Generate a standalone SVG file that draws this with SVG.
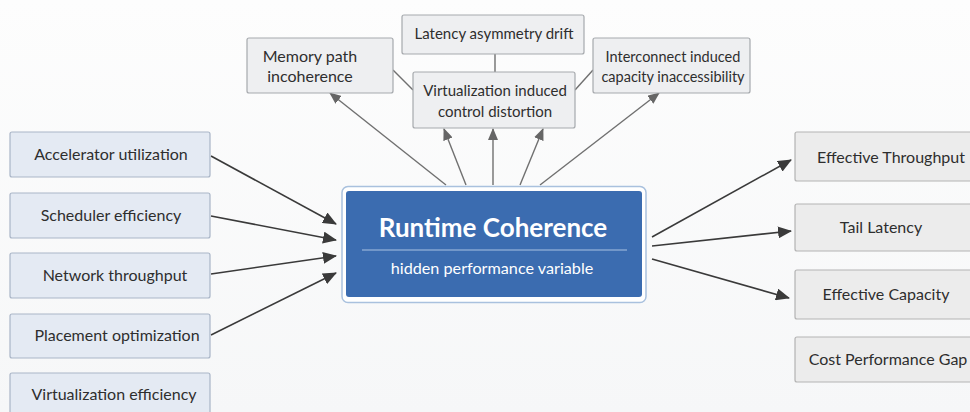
<svg xmlns="http://www.w3.org/2000/svg" width="970" height="412" viewBox="0 0 970 412">
<defs>
<marker id="ah" markerUnits="userSpaceOnUse" markerWidth="14" markerHeight="12" viewBox="0 0 14 12" refX="13" refY="6" orient="auto">
<path d="M0,0 L14,6 L0,12 Z" fill="#3a3a3a"/>
</marker>
<marker id="ahg" markerUnits="userSpaceOnUse" markerWidth="12" markerHeight="10" viewBox="0 0 12 10" refX="11" refY="5" orient="auto">
<path d="M0,0 L12,5 L0,10 Z" fill="#666"/>
</marker>
<linearGradient id="bg" x1="0" y1="0" x2="0" y2="1">
<stop offset="0" stop-color="#fdfdfd"/>
<stop offset="1" stop-color="#f6f7f8"/>
</linearGradient>
</defs>
<style>
text{font-family:Lato,"Open Sans","Liberation Sans",sans-serif;fill:#2e2e2e;text-anchor:middle}
.lbl{font-size:16px}
.tl{font-size:15px}
.in{fill:#e4eaf3;stroke:#a9b5c7;stroke-width:1.2}
.out{fill:#ececec;stroke:#b3b3b3;stroke-width:1.2}
.top{fill:#eeeff1;stroke:#a6a9ad;stroke-width:1.2}
.dk{stroke:#3a3a3a;stroke-width:1.6;fill:none}
.lt{stroke:#707070;stroke-width:1.4;fill:none}
</style>
<rect width="970" height="412" fill="url(#bg)"/>

<g id="connectors">
<line class="dk" x1="211" y1="156" x2="336" y2="224" marker-end="url(#ah)"/>
<line class="dk" x1="211" y1="216" x2="336" y2="240" marker-end="url(#ah)"/>
<line class="dk" x1="211" y1="274" x2="336" y2="256" marker-end="url(#ah)"/>
<line class="dk" x1="211" y1="335" x2="336" y2="273" marker-end="url(#ah)"/>
<line class="dk" x1="652" y1="237" x2="791" y2="160" marker-end="url(#ah)"/>
<line class="dk" x1="652" y1="246" x2="791" y2="231" marker-end="url(#ah)"/>
<line class="dk" x1="652" y1="259" x2="789" y2="298" marker-end="url(#ah)"/>
<line class="lt" x1="446" y1="185" x2="330" y2="93" marker-end="url(#ahg)"/>
<line class="lt" x1="466" y1="185" x2="444" y2="129" marker-end="url(#ahg)"/>
<line class="lt" x1="493" y1="185" x2="493" y2="129" marker-end="url(#ahg)"/>
<line class="lt" x1="520" y1="185" x2="543" y2="129" marker-end="url(#ahg)"/>
<line class="lt" x1="540" y1="185" x2="659" y2="93" marker-end="url(#ahg)"/>
<line class="lt" x1="495" y1="54" x2="495" y2="72"/>
<line class="lt" x1="393" y1="70" x2="413" y2="90"/>
<line class="lt" x1="575" y1="90" x2="593" y2="70"/>
</g>

<g id="center">
<rect x="342" y="186.5" width="304" height="116" rx="6" fill="#ffffff" stroke="#a9c1de" stroke-width="1.5"/>
<rect x="346" y="191" width="296" height="106" rx="3" fill="#3b6cb0"/>
<text x="493" y="237" style="font-size:26px;font-weight:bold;fill:#ffffff">Runtime Coherence</text>
<line x1="362" y1="250" x2="627" y2="250" stroke="#a9c2e2" stroke-width="1.2"/>
<text x="492" y="274" style="font-size:16.2px;fill:#ffffff">hidden performance variable</text>
</g>

<g id="in1"><rect class="in" x="10" y="132" width="200" height="45" rx="2"/><text class="lbl" x="111" y="160">Accelerator utilization</text></g>
<g id="in2"><rect class="in" x="10" y="193" width="200" height="45" rx="2"/><text class="lbl" x="111" y="221">Scheduler efficiency</text></g>
<g id="in3"><rect class="in" x="10" y="253" width="200" height="45" rx="2"/><text class="lbl" x="115" y="281">Network throughput</text></g>
<g id="in4"><rect class="in" x="10" y="314" width="200" height="44" rx="2"/><text class="lbl" x="117" y="341">Placement optimization</text></g>
<g id="in5"><rect class="in" x="10" y="373" width="200" height="45" rx="2"/><text class="lbl" x="114" y="400">Virtualization efficiency</text></g>

<g id="top-memory"><rect class="top" x="247" y="38" width="146" height="55" rx="2"/><text class="lbl" x="310" y="62">Memory path</text><text class="lbl" x="310" y="82">incoherence</text></g>
<g id="top-latency"><rect class="top" x="402" y="15" width="182" height="39" rx="2"/><text class="tl" x="494" y="39">Latency asymmetry drift</text></g>
<g id="top-virt"><rect class="top" x="413" y="72" width="162" height="56" rx="2"/><text class="tl" x="495" y="96">Virtualization induced</text><text class="tl" x="495" y="117">control distortion</text></g>
<g id="top-interconnect"><rect class="top" x="593" y="38" width="157" height="55" rx="2"/><text class="tl" x="673" y="62" style="font-size:14.5px">Interconnect induced</text><text class="tl" x="673" y="82" style="font-size:14.5px">capacity inaccessibility</text></g>

<g id="out1"><rect class="out" x="795" y="132" width="190" height="49" rx="2"/><text class="lbl" x="891" y="163">Effective Throughput</text></g>
<g id="out2"><rect class="out" x="795" y="204" width="190" height="47" rx="2"/><text class="lbl" x="881" y="233">Tail Latency</text></g>
<g id="out3"><rect class="out" x="795" y="270" width="190" height="49" rx="2"/><text class="lbl" x="886" y="300">Effective Capacity</text></g>
<g id="out4"><rect class="out" x="795" y="337" width="190" height="45" rx="2"/><text class="lbl" x="888" y="365">Cost Performance Gap</text></g>
</svg>
